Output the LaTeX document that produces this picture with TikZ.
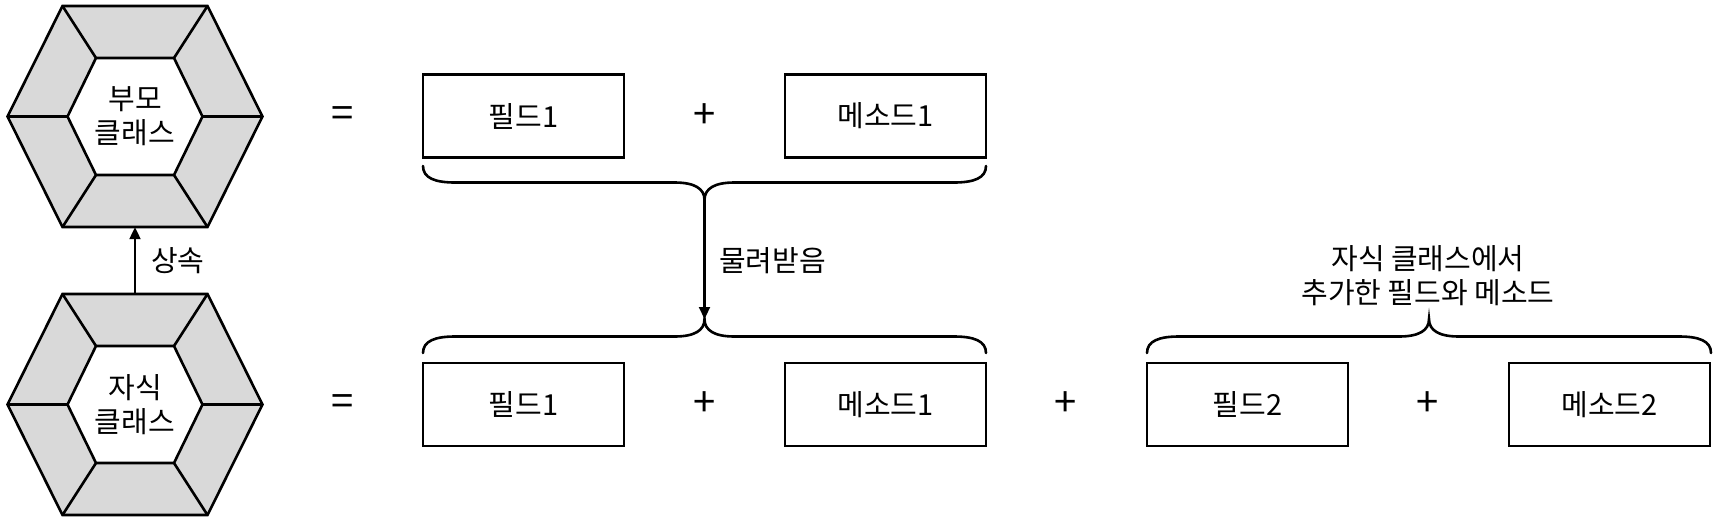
\documentclass[tikz,border=0pt]{standalone}
\usepackage{fontspec}
\setmainfont{Noto Sans CJK KR}
\usetikzlibrary{arrows.meta}
\definecolor{hexgray}{HTML}{D9D9D9}
\tikzset{
  boxnode/.style={draw, line width=2.6pt, minimum width=201pt, minimum height=83pt, inner sep=0pt, font=\fontsize{29}{34}\selectfont},
  txt/.style={inner sep=0pt, font=\fontsize{29}{34}\selectfont, align=center},
  op/.style={inner sep=0pt, font=\fontsize{40}{40}\selectfont},
  conn/.style={line width=2.2pt, -{Triangle[length=12pt,width=11pt]}},
  bracestyle/.style={line width=2.6pt, line cap=round},
  hexframe/.style={minimum width=255pt, minimum height=221pt, inner sep=0pt},
  hexline/.style={line width=2.6pt, line join=miter},
}
\newcommand\hexpic[1]{%
  \begin{scope}[shift={(#1)}]
    \fill[hexgray] (-127.5,0)--(-72.5,-110.5)--(72.5,-110.5)--(127.5,0)--(72.5,110.5)--(-72.5,110.5)--cycle;
    \fill[white] (-67.5,0)--(-39,-58.5)--(39,-58.5)--(67.5,0)--(39,58.5)--(-39,58.5)--cycle;
    \draw[hexline] (-127.5,0)--(-72.5,-110.5)--(72.5,-110.5)--(127.5,0)--(72.5,110.5)--(-72.5,110.5)--cycle;
    \draw[hexline] (-67.5,0)--(-39,-58.5)--(39,-58.5)--(67.5,0)--(39,58.5)--(-39,58.5)--cycle;
    \draw[hexline] (-127.5,0)--(-67.5,0) (127.5,0)--(67.5,0)
      (-72.5,-110.5)--(-39,-58.5) (72.5,-110.5)--(39,-58.5)
      (-72.5,110.5)--(-39,58.5) (72.5,110.5)--(39,58.5);
  \end{scope}}
\newcommand\hbrace[5]{%
  \pgfmathsetmacro\bxt{(#1+#2)/2}%
  \pgfmathsetmacro\bym{#3+#4*16.5}%
  \pgfmathsetmacro\byt{#3+#4*34}%
  \pgfmathsetmacro\byc{#3+#4*12}%
  \pgfmathsetmacro\byq{\bym+#4*6}%
  \draw[bracestyle] (#1,#3) .. controls (#1,\byc) and (#1+12,\bym) .. (#1+32,\bym)
    -- (\bxt-30,\bym) .. controls (\bxt-10,\bym) and (\bxt,\byq) .. (\bxt,\byt)
    .. controls (\bxt,\byq) and (\bxt+10,\bym) .. (\bxt+30,\bym)
    -- (#2-32,\bym) .. controls (#2-12,\bym) and (#2,\byc) .. (#2,#3);
  \coordinate (#5) at (\bxt,\byt);
}
\begin{document}
\begin{tikzpicture}[x=1pt,y=-1pt]
  \useasboundingbox (0,0) rectangle (1714,520);
  % hexagons
  \coordinate (pc) at (135,116.5);
  \coordinate (cc) at (135,404.5);
  \hexpic{pc}
  \hexpic{cc}
  \node[hexframe, txt] (p) at (pc) {부모\\클래스};
  \node[hexframe, txt] (c) at (cc) {자식\\클래스};
  \draw[conn] (c.north) -- (p.south);
  \node[txt, anchor=west] (inh) at (151,260.5) {상속};
  % top row
  \node[op] (eq1) at (343,117) {=};
  \node[boxnode] (f1) at (523.5,116) {필드1};
  \node[op] (pl1) at (704.5,116) {+};
  \node[boxnode] (m1) at (885.5,116) {메소드1};
  % bottom row
  \node[op] (eq2) at (343,405.5) {=};
  \node[boxnode] (f1b) at (523.5,404.5) {필드1};
  \node[op] (pl2) at (704.5,404.5) {+};
  \node[boxnode] (m1b) at (885.5,404.5) {메소드1};
  \node[op] (pl3) at (1066,404.5) {+};
  \node[boxnode] (f2) at (1247.5,404.5) {필드2};
  \node[op] (pl4) at (1428,404.5) {+};
  \node[boxnode] (m2) at (1609.5,404.5) {메소드2};
  % braces
  \hbrace{423}{986}{166}{1}{tb}
  \hbrace{423}{986}{353}{-1}{bb}
  \hbrace{1147}{1711}{353}{-1}{rb}
  \draw[conn] (tb) -- (bb);
  \node[txt, anchor=west] (inhtxt) at (719,260.5) {물려받음};
  \node[txt] (addtxt) at (1428,276) {자식 클래스에서\\추가한 필드와 메소드};
\end{tikzpicture}
\end{document}
